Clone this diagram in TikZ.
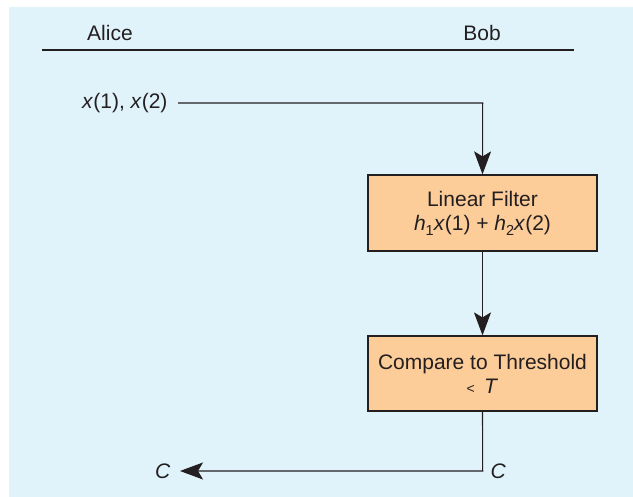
\documentclass[tikz,border=0pt]{standalone}
\usepackage{fontspec}
\setmainfont{Liberation Sans}
\usetikzlibrary{arrows.meta}
\definecolor{panelblue}{RGB}{224,243,251}
\definecolor{boxpeach}{RGB}{252,204,153}
\definecolor{inkgray}{RGB}{35,31,32}
% italic variable with a lowered subscript
\newcommand{\vsub}[2]{\textit{#1}\raisebox{-0.45ex}{\fontsize{14.5}{14.5}\selectfont #2}}
\begin{document}
\begin{tikzpicture}[x=1pt,y=-1pt,
  every node/.style={font=\fontsize{21}{24}\selectfont, text=inkgray},
  procbox/.style={draw=inkgray, line width=1.2pt, fill=boxpeach,
    minimum width=229pt, minimum height=76pt, align=center, inner sep=0pt},
  wire/.style={draw=inkgray, line width=1.1pt},
  flow/.style={wire, -{Stealth[length=23pt,width=17pt,inset=5pt]}}]
  \useasboundingbox (0,0) rectangle (633,497);
  \fill[panelblue] (9,7) rectangle (633,497);

  % party headings and divider
  \node (alice) at (110,33) {Alice};
  \node (bob) at (482,33) {Bob};
  \coordinate (divl) at (42,50);
  \coordinate (divr) at (574,50);
  \draw[wire] (divl) -- (divr);

  % input samples
  \node[anchor=east] (xin) at (171,103) {\textit{x}(1), \textit{x}(2)};
  \coordinate (turn) at (482.7,103);

  % processing blocks at Bob
  \node[procbox] (filt) at (482.5,213) {Linear Filter\\[0pt]
    \vsub{h}{1}\textit{x}(1) + \vsub{h}{2}\textit{x}(2)};
  \node[procbox, minimum height=75pt] (cmp) at (482.5,373.5) {Compare to Threshold\\[0pt]
    {\fontsize{14}{14}\selectfont <}\, \textit{T}};

  % decision sent back
  \coordinate (back) at (482.7,471);
  \coordinate (tip) at (180,471);
  \node[anchor=east] (cout) at (174,471) {\textit{C}};
  \node[anchor=west] (cbob) at (487,471) {\textit{C}};

  \path (xin.east |- turn) ++(7,0) coordinate (xstart);
  \draw[flow] (xstart) -- (turn) -- (filt.north);
  \draw[flow] (filt.south) -- (cmp.north);
  \draw[flow] (cmp.south) -- (back) -- (tip);
\end{tikzpicture}
\end{document}
